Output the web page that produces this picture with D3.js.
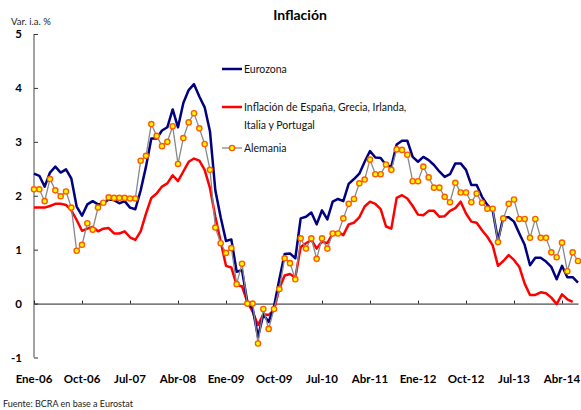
<!DOCTYPE html>
<html lang="es">
<head>
<meta charset="UTF-8">
<title>Inflación</title>
<style>
  body { margin: 0; background: #fff; }
  svg { display: block; font-family: Lato, "Open Sans", sans-serif; }
</style>
<script src="https://d3js.org/d3.v7.min.js"></script>
</head>
<body>
<div id="chart"></div>
<script>
  // Monthly series, Ene-06 .. Jul-14 (var. i.a. %)
  var eurozona = [
    2.41, 2.37, 2.17, 2.43, 2.54, 2.43, 2.49, 2.32, 1.80, 1.63, 1.84, 1.90,
    1.84, 1.86, 1.93, 1.92, 1.86, 1.90, 1.78, 1.75, 2.10, 2.54, 3.06, 3.06,
    3.21, 3.27, 3.60, 3.27, 3.72, 3.96, 4.07, 3.84, 3.64, 3.19, 2.10, 1.60,
    1.16, 1.19, 0.59, 0.62, 0.03, -0.09, -0.62, -0.20, -0.34, -0.06, 0.45, 0.92,
    0.93, 0.84, 1.58, 1.61, 1.69, 1.47, 1.73, 1.56, 1.89, 1.94, 1.90, 2.22,
    2.31, 2.41, 2.63, 2.83, 2.71, 2.70, 2.57, 2.54, 2.95, 3.02, 3.02, 2.72,
    2.63, 2.72, 2.66, 2.57, 2.45, 2.35, 2.40, 2.60, 2.60, 2.48, 2.20, 2.20,
    1.98, 1.83, 1.73, 1.17, 1.60, 1.60, 1.52, 1.30, 1.09, 0.71, 0.85, 0.85,
    0.78, 0.68, 0.45, 0.70, 0.49, 0.49, 0.39
  ];
  var periferia = [
    1.78, 1.78, 1.78, 1.81, 1.85, 1.85, 1.83, 1.73, 1.55, 1.35, 1.39, 1.42,
    1.34, 1.39, 1.40, 1.30, 1.30, 1.34, 1.23, 1.18, 1.34, 1.67, 1.96, 2.04,
    2.17, 2.23, 2.38, 2.27, 2.45, 2.63, 2.69, 2.65, 2.48, 2.14, 1.61, 1.15,
    0.70, 0.67, 0.34, 0.32, 0.03, -0.15, -0.40, -0.20, -0.21, -0.12, 0.28, 0.52,
    0.55, 0.48, 1.05, 1.12, 1.18, 1.02, 1.15, 1.12, 1.30, 1.33, 1.27, 1.47,
    1.50, 1.60, 1.80, 1.89, 1.85, 1.75, 1.43, 1.39, 1.96, 2.01, 1.95, 1.81,
    1.65, 1.64, 1.72, 1.72, 1.61, 1.62, 1.72, 1.77, 1.89, 1.67, 1.52, 1.50,
    1.36, 1.24, 1.08, 0.70, 0.79, 0.90, 0.81, 0.68, 0.37, 0.16, 0.16, 0.21,
    0.19, 0.11, -0.01, 0.17, 0.08, 0.03
  ];
  var alemania = [
    2.12, 2.12, 1.90, 2.31, 2.10, 1.99, 2.08, 1.78, 0.98, 1.09, 1.49, 1.37,
    1.78, 1.87, 1.97, 1.96, 1.96, 1.96, 1.95, 1.95, 2.65, 2.74, 3.33, 3.11,
    2.92, 3.00, 3.29, 2.59, 3.07, 3.36, 3.53, 3.25, 2.96, 2.48, 1.41, 1.12,
    0.94, 1.03, 0.36, 0.74, 0.00, 0.00, -0.74, -0.10, -0.47, -0.10, 0.27, 0.84,
    0.75, 0.45, 1.21, 1.02, 1.21, 0.83, 1.21, 1.02, 1.30, 1.30, 1.58, 1.85,
    1.94, 2.23, 2.30, 2.67, 2.40, 2.40, 2.58, 2.48, 2.86, 2.85, 2.76, 2.27,
    2.27, 2.54, 2.34, 2.15, 2.15, 1.98, 1.88, 2.24, 2.06, 2.06, 1.88, 2.04,
    1.87, 1.76, 1.76, 1.14, 1.58, 1.85, 1.93, 1.57, 1.57, 1.22, 1.57, 1.22,
    1.22, 0.95, 0.86, 1.13, 0.60, 0.95, 0.79
  ];
  var tickLabels = ["Ene-06", "Oct-06", "Jul-07", "Abr-08", "Ene-09", "Oct-09",
                    "Jul-10", "Abr-11", "Ene-12", "Oct-12", "Jul-13", "Abr-14"];
  var yTicks = [-1, 0, 1, 2, 3, 4, 5];

  var width = 581, height = 410;
  var x = d3.scaleLinear().domain([0, 102]).range([34, 578]);
  var y = d3.scaleLinear().domain([-1, 5]).range([357.5, 34]);

  var svg = d3.select("#chart").append("svg")
      .attr("width", width)
      .attr("height", height);

  // title and notes
  svg.append("text").attr("x", 300).attr("y", 20)
      .attr("text-anchor", "middle")
      .attr("font-size", 14).attr("font-weight", "bold")
      .text("Inflación");
  svg.append("text").attr("x", 11).attr("y", 25)
      .attr("font-size", 9.5).attr("fill", "#222")
      .text("Var. i.a. %");
  svg.append("text").attr("x", 3).attr("y", 407)
      .attr("font-size", 9).attr("fill", "#222")
      .text("Fuente: BCRA en base a Eurostat");

  // y axis
  var yAxis = svg.append("g").attr("transform", "translate(34,0)")
      .call(d3.axisRight(y).tickValues(yTicks).tickSize(4).tickFormat(""));
  yAxis.select(".domain").attr("stroke", "#666").attr("stroke-width", 1.2)
      .attr("d", "M0," + y(5) + "V" + y(-1));
  yAxis.selectAll(".tick line").attr("stroke", "#333");
  svg.append("g").selectAll("text").data(yTicks).join("text")
      .attr("x", 22).attr("y", function(d) { return y(d) + 4; })
      .attr("text-anchor", "end")
      .attr("font-size", 11.5).attr("font-weight", "bold")
      .text(function(d) { return d; });

  // x axis on the zero line
  var xAxis = svg.append("g").attr("transform", "translate(0," + y(0) + ")")
      .call(d3.axisTop(x).tickValues(tickLabels.map(function(d, i) { return i * 9; }))
            .tickSize(3).tickSizeOuter(0).tickFormat(""));
  xAxis.select(".domain").attr("stroke", "#222").attr("stroke-width", 1);
  xAxis.selectAll(".tick line").attr("stroke", "#222");
  svg.append("g").selectAll("text").data(tickLabels).join("text")
      .attr("x", function(d, i) { return x(i * 9); })
      .attr("y", 383)
      .attr("text-anchor", "middle")
      .attr("font-size", 11.5).attr("font-weight", "bold")
      .text(function(d) { return d; });

  var line = d3.line()
      .x(function(d, i) { return x(i); })
      .y(function(d) { return y(d); });

  svg.append("path").datum(periferia)
      .attr("d", line).attr("fill", "none")
      .attr("stroke", "#ff0000").attr("stroke-width", 2.5)
      .attr("stroke-linejoin", "round");
  svg.append("path").datum(eurozona)
      .attr("d", line).attr("fill", "none")
      .attr("stroke", "#000080").attr("stroke-width", 2.5)
      .attr("stroke-linejoin", "round");
  svg.append("path").datum(alemania)
      .attr("d", line).attr("fill", "none")
      .attr("stroke", "#888").attr("stroke-width", 1.3);
  svg.append("g").selectAll("circle").data(alemania).join("circle")
      .attr("cx", function(d, i) { return x(i); })
      .attr("cy", function(d) { return y(d); })
      .attr("r", 2.6)
      .attr("fill", "#ffff00")
      .attr("stroke", "#ff5a00").attr("stroke-width", 1.4);

  // legend
  var legend = svg.append("g").attr("font-size", 10.5).attr("fill", "#111");
  legend.append("line").attr("x1", 222).attr("x2", 242).attr("y1", 69).attr("y2", 69)
      .attr("stroke", "#000080").attr("stroke-width", 2.5);
  legend.append("text").attr("x", 244).attr("y", 73).text("Eurozona");
  legend.append("line").attr("x1", 222).attr("x2", 242).attr("y1", 107).attr("y2", 107)
      .attr("stroke", "#ff0000").attr("stroke-width", 2.5);
  legend.append("text").attr("x", 244).attr("y", 111).text("Inflación de España, Grecia, Irlanda,");
  legend.append("text").attr("x", 244).attr("y", 129).text("Italia y Portugal");
  legend.append("line").attr("x1", 222).attr("x2", 242).attr("y1", 148).attr("y2", 148)
      .attr("stroke", "#888").attr("stroke-width", 1.3);
  legend.append("circle").attr("cx", 232).attr("cy", 148).attr("r", 2.6)
      .attr("fill", "#ffff00").attr("stroke", "#ff5a00").attr("stroke-width", 1.4);
  legend.append("text").attr("x", 244).attr("y", 152).text("Alemania");
</script>
</body>
</html>
